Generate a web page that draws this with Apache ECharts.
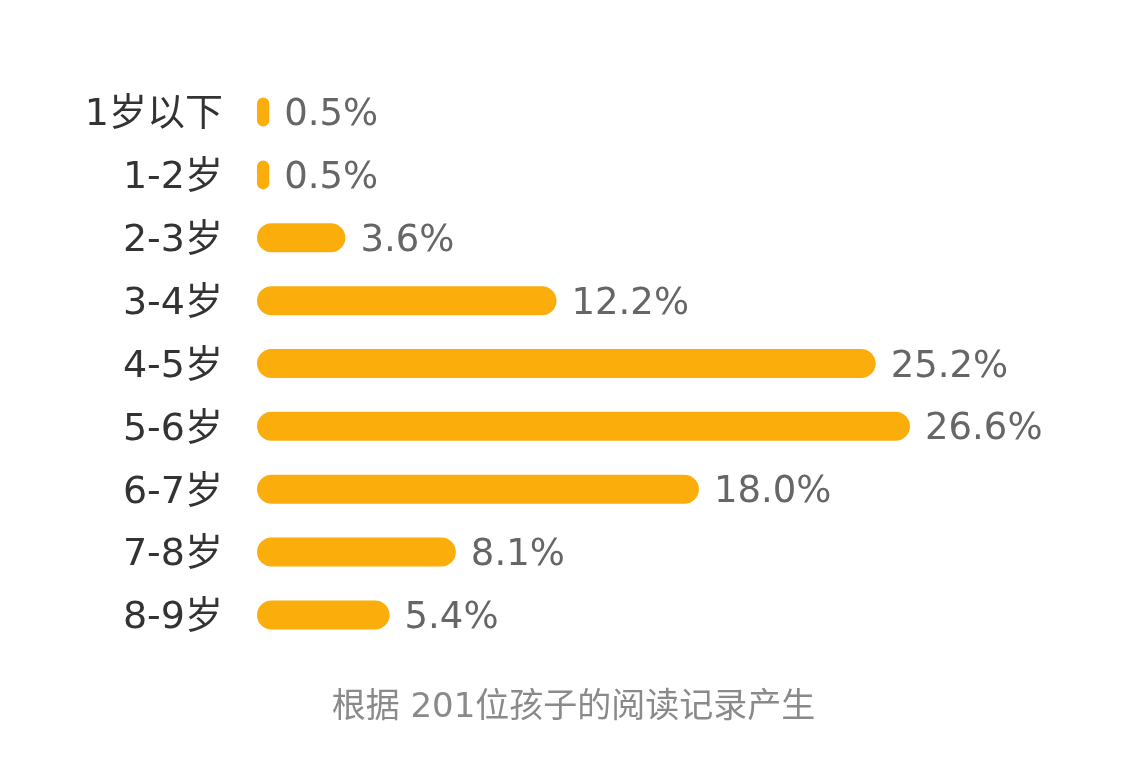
<!DOCTYPE html>
<html><head><meta charset="utf-8">
<script src="https://cdn.jsdelivr.net/npm/echarts@6/dist/echarts.min.js"></script>
<style>html,body{margin:0;padding:0;background:#fff}#c{width:1147px;height:768px}</style>
</head><body><div id="c"></div>
<script>
const categories = ['1岁以下','1-2岁','2-3岁','3-4岁','4-5岁','5-6岁','6-7岁','7-8岁','8-9岁'];
const values = [0.5,0.5,3.6,12.2,25.2,26.6,18.0,8.1,5.4];
const footnote = '根据 201位孩子的阅读记录产生';
const font = '"DejaVu Sans", "Noto Sans CJK SC", sans-serif';
const chart = echarts.init(document.getElementById('c'));
chart.setOption({
  backgroundColor:'#fff',
  animation:false,
  title:{text:footnote,left:'center',top:686,textStyle:{fontSize:34,fontWeight:'normal',color:'#8a8a8a',fontFamily:font}},
  grid:{left:257,right:153.5,top:80.6,bottom:121.6,containLabel:false},
  xAxis:{type:'value',min:0,max:30,show:false},
  yAxis:{type:'category',data:categories,inverse:true,
    axisLine:{show:false},axisTick:{show:false},
    axisLabel:{margin:34,formatter:v=>'{a|'+v+'}',
      rich:{a:{color:'#333',fontSize:38,fontFamily:font,padding:[7,0,0,0]}}}},
  series:[{type:'bar',data:values,barWidth:29,
    itemStyle:{color:'#FBAD0C',borderRadius:14.5},
    label:{show:true,position:'right',distance:15,
      formatter:p=>'{a|'+p.value.toFixed(1)+'%}',
      rich:{a:{color:'#666',fontSize:37,fontFamily:font,padding:[7,0,0,0]}}}}]
});
</script></body></html>
